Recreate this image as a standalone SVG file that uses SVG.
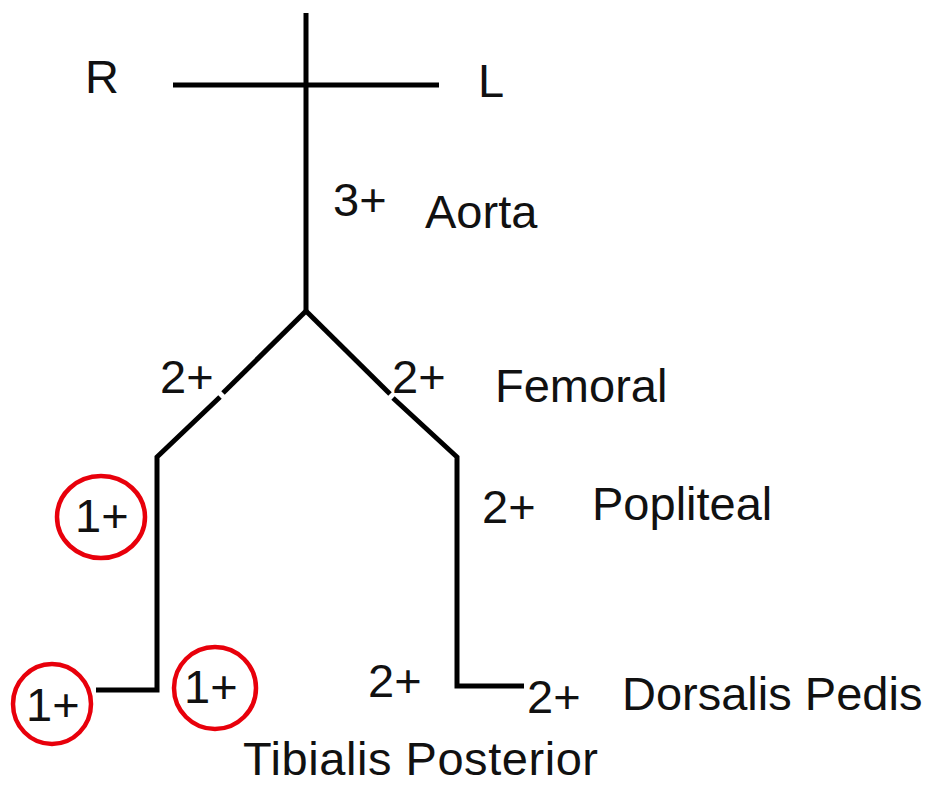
<svg xmlns="http://www.w3.org/2000/svg" width="932" height="787" viewBox="0 0 932 787">
<style>
text{font-family:"Liberation Sans",Arial,Helvetica,sans-serif;font-size:47px;fill:#111}
.ln{fill:none;stroke:#000;stroke-width:5;stroke-linejoin:miter;stroke-linecap:butt}
.ring{fill:none;stroke:#e8000b;stroke-width:4.5}
</style>
<rect width="932" height="787" fill="#fff"/>
<g id="connectors">
<path class="ln" d="M306 13 V312"/>
<path class="ln" d="M173 85 H439"/>
<path class="ln" d="M306 311 L223 393"/>
<path class="ln" d="M220 397 L157 457 V690 H96"/>
<path class="ln" d="M306 311 L390 394"/>
<path class="ln" d="M393 398 L457 457 V686 H524"/>
</g>
<g id="orientation">
<text x="85" y="93">R</text>
<text x="478" y="97">L</text>
</g>
<g id="aorta">
<text x="333" y="216">3+</text>
<text x="425" y="228">Aorta</text>
</g>
<g id="femoral">
<text x="160" y="393">2+</text>
<text x="392" y="393">2+</text>
<text x="495" y="402">Femoral</text>
</g>
<g id="popliteal">
<ellipse class="ring" cx="101" cy="517" rx="44" ry="41"/>
<text x="75" y="532">1+</text>
<text x="482" y="523">2+</text>
<text x="592" y="520">Popliteal</text>
</g>
<g id="tibialis-posterior">
<ellipse class="ring" cx="52" cy="704" rx="39" ry="40"/>
<text x="26" y="721">1+</text>
<ellipse class="ring" cx="215" cy="688" rx="41" ry="41"/>
<text x="184" y="703">1+</text>
<text x="243" y="775" textLength="355">Tibialis Posterior</text>
</g>
<g id="dorsalis-pedis">
<text x="368" y="697">2+</text>
<text x="527" y="713">2+</text>
<text x="622" y="710">Dorsalis Pedis</text>
</g>
</svg>
